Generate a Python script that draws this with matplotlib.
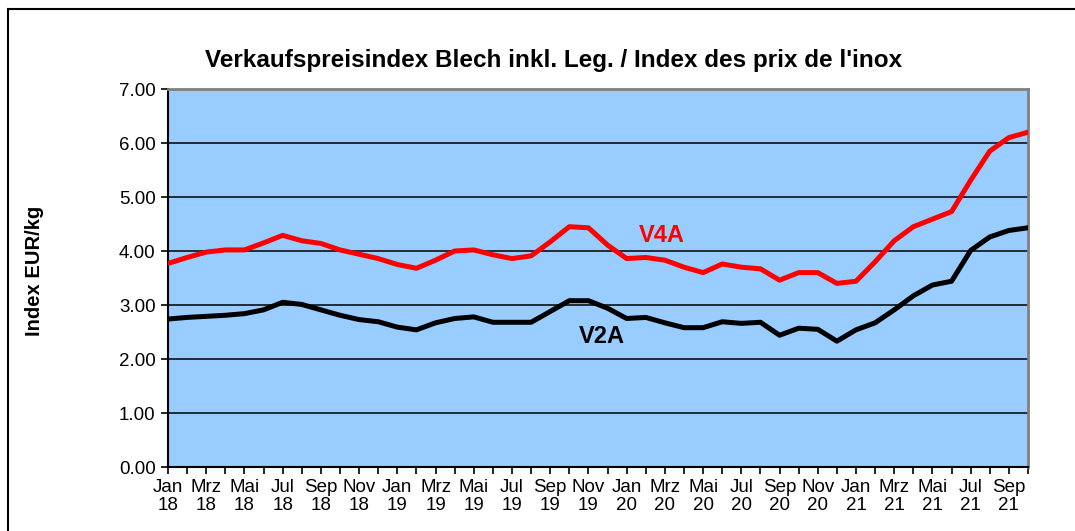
import matplotlib.pyplot as plt
import matplotlib.patches as mpatches

# monthly index Jan 18 .. Oct 21
months = ['Jan', 'Feb', 'Mrz', 'Apr', 'Mai', 'Jun', 'Jul', 'Aug', 'Sep', 'Okt', 'Nov', 'Dez']
years = ['18', '19', '20', '21']
labels = [f'{m}\n{y}' for y in years for m in months][:46]

v4a = [3.77, 3.88, 3.98, 4.02, 4.02, 4.15, 4.29, 4.19, 4.14, 4.02,
       3.94, 3.86, 3.75, 3.68, 3.83, 4.00, 4.02, 3.93, 3.86, 3.91,
       4.17, 4.45, 4.43, 4.11, 3.86, 3.88, 3.83, 3.70, 3.60, 3.76,
       3.70, 3.67, 3.46, 3.60, 3.60, 3.40, 3.44, 3.80, 4.19, 4.45,
       4.59, 4.73, 5.31, 5.85, 6.10, 6.20]
v2a = [2.74, 2.77, 2.79, 2.81, 2.84, 2.91, 3.05, 3.01, 2.91, 2.81,
       2.73, 2.69, 2.59, 2.54, 2.67, 2.75, 2.78, 2.68, 2.68, 2.68,
       2.88, 3.08, 3.08, 2.94, 2.75, 2.77, 2.67, 2.58, 2.58, 2.69,
       2.66, 2.68, 2.44, 2.57, 2.55, 2.33, 2.54, 2.67, 2.91, 3.17,
       3.37, 3.44, 4.01, 4.26, 4.38, 4.43]

plt.rcParams['font.family'] = ['Liberation Sans', 'DejaVu Sans']

fig = plt.figure(figsize=(10.75, 5.31), dpi=100)
ax = fig.add_axes([168/1075, 64/531, 860/1075, 378/531])
ax.set_facecolor('#99CCFF')

x = list(range(len(v4a)))
ax.plot(x, v4a, color='#FF0000', lw=3.6, solid_joinstyle='round', zorder=3)
ax.plot(x, v2a, color='black', lw=3.6, solid_joinstyle='round', zorder=3)

ax.set_xlim(0, len(v4a) - 1)
ax.set_ylim(0, 7)
ax.set_yticks([i for i in range(8)])
ax.set_yticklabels([f'{i:.2f}' for i in range(8)], fontsize=13.5)
ax.set_xticks(x)
ax.set_xticklabels([l if i % 2 == 0 else '' for i, l in enumerate(labels)],
                   fontsize=13.5, linespacing=1.05)
ax.tick_params(axis='both', direction='out', length=5, width=1.2, color='black', pad=4)

for yv in range(1, 7):
    ax.axhline(yv, color='black', lw=1.1, zorder=1)

for s in ['left', 'bottom']:
    ax.spines[s].set_color('black')
    ax.spines[s].set_linewidth(1.5)
for s in ['top', 'right']:
    ax.spines[s].set_color('#808080')
    ax.spines[s].set_linewidth(2)

ax.set_ylabel('Index EUR/kg', fontsize=14.5, fontweight='bold')
ax.yaxis.set_label_coords(-124/860, 0.52)

ax.text(25.85, 4.28, 'V4A', color='#FF0000', fontsize=17, fontweight='bold',
        ha='center', va='center')
ax.text(22.7, 2.41, 'V2A', color='black', fontsize=17, fontweight='bold',
        ha='center', va='center')

fig.text(554/1075, 1 - 60/531,
         "Verkaufspreisindex Blech inkl. Leg. / Index des prix de l'inox",
         fontsize=17.5, fontweight='bold', ha='center', va='center')

# outer chart frame
frame = mpatches.Rectangle((8/1075, -0.1), 1.2, 1 - 9/531 + 0.1, transform=fig.transFigure,
                           fill=False, edgecolor='black', lw=1.5, clip_on=False)
fig.patches.append(frame)

fig.savefig('out.png', dpi=100)
